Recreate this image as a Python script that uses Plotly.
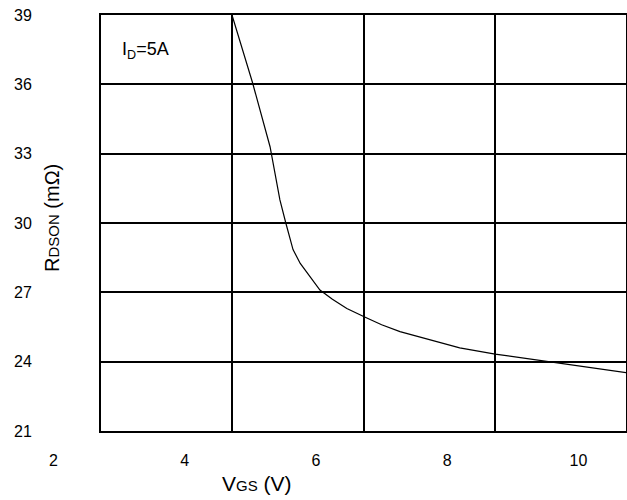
import plotly.graph_objects as go

# ---- data ----
vgs = [4.72, 5.03, 5.30, 5.36, 5.45, 5.54, 5.65, 5.76, 5.91, 6.06, 6.25, 6.47,
       6.75, 7.00, 7.28, 7.70, 8.19, 8.73, 9.46, 10.73]
rdson = [39.0, 36.1, 33.3, 32.4, 31.0, 30.0, 28.85, 28.25, 27.65, 27.1, 26.7, 26.3,
         25.92, 25.6, 25.3, 24.98, 24.6, 24.33, 24.03, 23.52]
x_ticks = [2, 4, 6, 8, 10]
y_ticks = [21, 24, 27, 30, 33, 36, 39]

X_MIN, X_MAX = 2.7238, 10.7238   # box range (4 divisions of 2 V)
Y_MIN, Y_MAX = 21, 39

W, H = 627, 500
L, R, T, B = 0, 1, 15, 69
plot_w = W - L - R
plot_h = H - T - B
box_left_px = 101
d0 = box_left_px / plot_w
# label axis spans the full plot width with the same scale as the box axis
px_per_unit = (plot_w - box_left_px) / (X_MAX - X_MIN)
x2_min = X_MIN - box_left_px / px_per_unit

FONT = "Liberation Sans, Arial, sans-serif"

fig = go.Figure()
fig.add_trace(go.Scatter(x=vgs, y=rdson, mode="lines",
                         line=dict(color="black", width=1.2),
                         xaxis="x", yaxis="y", showlegend=False))
# invisible trace to activate the label axis
fig.add_trace(go.Scatter(x=[x2_min], y=[Y_MIN], mode="markers",
                         marker=dict(opacity=0), xaxis="x2", yaxis="y2",
                         showlegend=False, hoverinfo="skip"))

fig.update_layout(
    width=W, height=H,
    margin=dict(l=L, r=R, t=T, b=B, autoexpand=False),
    paper_bgcolor="white", plot_bgcolor="rgba(0,0,0,0)",
    font=dict(family=FONT, size=16, color="black"),
    xaxis=dict(domain=[d0, 1], range=[X_MIN, X_MAX], tick0=X_MIN, dtick=2,
               showgrid=True, gridcolor="black", gridwidth=2,
               showline=True, linecolor="black", linewidth=2, mirror=True,
               showticklabels=False, ticks="", zeroline=False),
    xaxis2=dict(domain=[0, 1], range=[x2_min, X_MAX], anchor="y2",
                tickvals=x_ticks, ticktext=[str(v) for v in x_ticks],
                showgrid=False, showline=False, zeroline=False, ticks="",
                ticklabelstandoff=18, tickfont=dict(size=16)),
    yaxis=dict(range=[Y_MIN, Y_MAX], tickvals=y_ticks, anchor="x",
               showgrid=True, gridcolor="black", gridwidth=2,
               showline=True, linecolor="black", linewidth=2, mirror=True,
               ticks="", zeroline=False, ticklabelstandoff=64,
               tickfont=dict(size=16)),
    yaxis2=dict(range=[Y_MIN, Y_MAX], anchor="x2", visible=False,
                showgrid=False, zeroline=False),
)

def py(px):
    return (H - B - px) / plot_h

fig.add_annotation(xref="paper", yref="paper", x=257 / plot_w, y=py(483),
                   text="V<span style='font-size:15px'>GS</span> (V)", showarrow=False,
                   font=dict(size=21, family=FONT), xanchor="center", yanchor="middle")
fig.add_annotation(xref="paper", yref="paper", x=52 / plot_w, y=py(218),
                   text="R<span style='font-size:15px'>DSON</span> (mΩ)", showarrow=False,
                   textangle=-90,
                   font=dict(size=20, family=FONT), xanchor="center", yanchor="middle")
fig.add_annotation(xref="paper", yref="paper", x=120 / plot_w, y=py(50),
                   text="I<sub>D</sub>=5A", showarrow=False,
                   font=dict(size=18, family=FONT), xanchor="left", yanchor="middle")

fig.write_html("out.html",
               config={"displayModeBar": False},
               post_script="document.body.style.margin='0';"
                           "document.body.style.overflow='hidden';")
